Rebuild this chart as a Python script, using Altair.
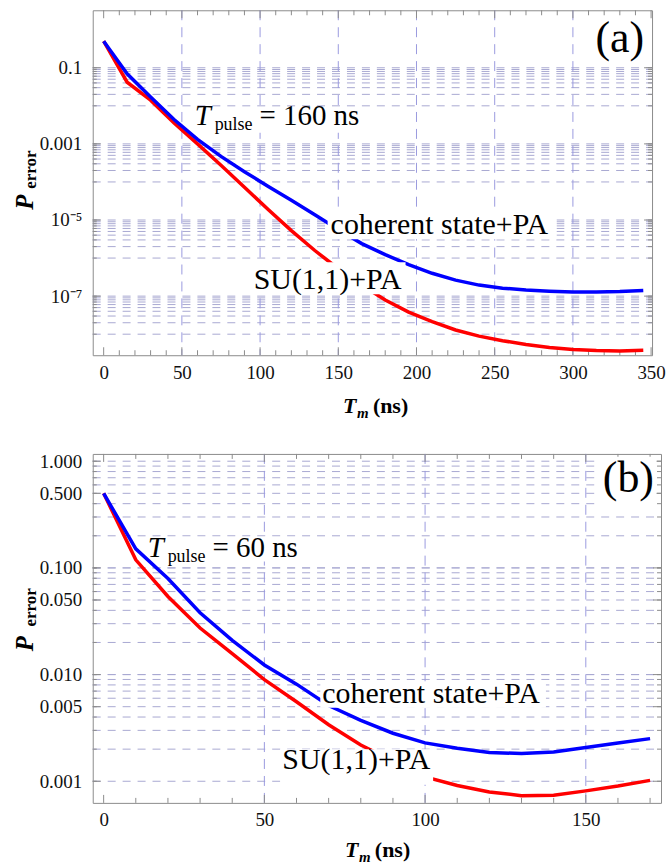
import altair as alt
import pandas as pd

FONT = "'Liberation Serif', 'Times New Roman', serif"
RED = "#ff0000"
BLUE = "#0000ff"
GRID_H = "#a9a9d2"
GRID_V = "#9b9bdf"
FRAME = "#8c8c8c"

# ---------------- panel (a): T_pulse = 160 ns ----------------
a_tm = [0, 15, 30, 45, 60, 75, 90, 105, 120, 135, 150, 165, 180, 195, 210,
        225, 240, 255, 270, 285, 300, 315, 330, 345]
a_coherent = [0.5, 0.0692, 0.0170, 4.37e-3, 1.32e-3, 4.68e-4, 1.86e-4, 7.76e-5,
              3.31e-5, 1.38e-5, 5.62e-6, 2.40e-6, 1.23e-6, 6.76e-7, 3.98e-7,
              2.63e-7, 1.95e-7, 1.62e-7, 1.45e-7, 1.35e-7, 1.29e-7, 1.29e-7,
              1.32e-7, 1.41e-7]
a_su11 = [0.5, 0.0417, 0.0141, 3.55e-3, 1.0e-3, 2.75e-4, 7.24e-5, 1.91e-5,
          5.25e-6, 1.58e-6, 5.25e-7, 1.95e-7, 7.94e-8, 3.80e-8, 2.14e-8,
          1.29e-8, 8.91e-9, 6.76e-9, 5.37e-9, 4.47e-9, 3.98e-9, 3.72e-9,
          3.63e-9, 3.80e-9]
a_xdomain = [-7.0, 350.6]
a_ydomain = [2.8e-9, 3.24]
a_xmajor = [0, 50, 100, 150, 200, 250, 300, 350]
a_xminor = [v for v in range(0, 351, 10) if v % 50]
a_vgrid = [50, 100, 150, 200, 250, 300]
a_hgrid = [k * 10.0 ** n for n in (-8, -6, -4, -2) for k in range(1, 11)]
a_ymajor = [0.1, 0.001, 1e-5, 1e-7]
a_ylabels = ["0.1", "0.001", "10\u207b\u2075", "10\u207b\u2077"]
# label boxes: x1, x2 (ns), y1, y2 (P)
a_boxes = {"x1": [59.5, 143.2, 94.0, 314.6], "x2": [168.3, 289.6, 193.0, 348.5],
           "y1": [8.8e-3, 1.66e-5, 7.8e-7, 2.12], "y2": [1.95e-3, 3.1e-6, 1.12e-7, 0.125]}
a_pulse_at = (58.2, 3.16e-3)
a_coh_at = (145.1, 4.17e-6)
a_su_at = (95.9, 1.51e-7)
a_tag_at = (345.5, 0.2576)

# ---------------- panel (b): T_pulse = 60 ns ----------------
b_tm = [0, 10, 20, 30, 40, 50, 60, 70, 80, 90, 100, 110, 120, 130, 140, 150, 160, 170]
b_coherent = [0.5, 0.151, 0.0794, 0.038, 0.0209, 0.0123, 8.13e-3, 5.13e-3, 3.72e-3,
              2.82e-3, 2.29e-3, 2.04e-3, 1.86e-3, 1.82e-3, 1.88e-3, 2.07e-3,
              2.28e-3, 2.51e-3]
b_su11 = [0.5, 0.119, 0.054, 0.0273, 0.0157, 8.97e-3, 5.57e-3, 3.39e-3, 2.19e-3,
          1.55e-3, 1.10e-3, 9.12e-4, 7.94e-4, 7.33e-4, 7.41e-4, 8.13e-4, 9.02e-4,
          1.02e-3]
b_xdomain = [-3.4, 173.4]
b_ydomain = [6.27e-4, 1.17]
b_xmajor = [0, 50, 100, 150]
b_xminor = [v for v in range(0, 171, 10) if v % 50]
b_vgrid = [50, 100, 150]
b_hgrid = [k * 10.0 ** n for n in (-3, -2, -1) for k in range(1, 11)]
b_ymajor = [1.0, 0.5, 0.1, 0.05, 0.01, 0.005, 0.001]
b_ylabels = ["1.000", "0.500", "0.100", "0.050", "0.010", "0.005", "0.001"]
b_boxes = {"x1": [17.1, 67.4, 55.0, 154.3], "x2": [61.8, 137.6, 102.5, 172.0],
           "y1": [0.196, 8.65e-3, 2.0e-3, 1.10], "y2": [0.1145, 4.9e-3, 9.25e-4, 0.374]}
b_pulse_at = (13.7, 0.1276)
b_coh_at = (68.0, 5.43e-3)
b_su_at = (55.6, 1.29e-3)
b_tag_at = (171.2, 0.516)


def label_expr(values, labels):
    pairs = sorted(zip(values, labels), key=lambda p: -p[0])
    expr = ""
    for v, lab in pairs:
        expr += f"datum.value >= {v * 0.98!r} ? '{lab}' : "
    return expr + "''"


def one_row(s):
    return pd.DataFrame({"s": [s]})


def panel(tm, coh, su, xdom, ydom, W, H, xmaj, xmin, vgrid, hgrid, ymaj, ylab,
          boxes, pulse_at, pulse_txt, coh_at, su_at, tag_at, tag, xt, yt):
    xs = alt.Scale(domain=xdom, nice=False, zero=False)
    ys = alt.Scale(type="log", domain=ydom, nice=False)
    xaxis = alt.Axis(values=xmaj, labelFont=FONT, labelFontSize=19, labelColor="#111",
                     ticks=False, tickSize=0, domain=False, grid=False, labelPadding=8,
                     labelFlush=False, title=None, format="d")
    yaxis = alt.Axis(values=ymaj, labelExpr=label_expr(ymaj, ylab), labelFont=FONT,
                     labelFontSize=19, labelColor="#111", ticks=False, tickSize=0,
                     domain=False, grid=False, labelPadding=11, title=None)

    def X(f):
        return alt.X(f, scale=xs, axis=xaxis)

    def Y(f):
        return alt.Y(f, scale=ys, axis=yaxis)

    layers = []
    # grid
    layers.append(alt.Chart(pd.DataFrame({"P": hgrid})).mark_rule(
        color=GRID_H, strokeWidth=1, strokeDash=[8, 7]).encode(
        y=Y("P:Q"), x=alt.value(0), x2=alt.value(W)))
    layers.append(alt.Chart(pd.DataFrame({"T": vgrid})).mark_rule(
        color=GRID_V, strokeWidth=1, strokeDash=[10, 7]).encode(
        x=X("T:Q"), y=alt.value(0), y2=alt.value(H)))
    # frame ticks
    for vals, ln in ((xmaj, 8), (xmin, 5)):
        df = pd.DataFrame({"T": vals})
        layers.append(alt.Chart(df).mark_rule(color=FRAME, strokeWidth=1).encode(
            x=X("T:Q"), y=alt.value(H), y2=alt.value(H - ln)))
        layers.append(alt.Chart(df).mark_rule(color=FRAME, strokeWidth=1).encode(
            x=X("T:Q"), y=alt.value(0), y2=alt.value(ln)))
    for vals, ln in ((ymaj, 8), (hgrid, 4)):
        df = pd.DataFrame({"P": vals})
        layers.append(alt.Chart(df).mark_rule(color=FRAME, strokeWidth=1).encode(
            y=Y("P:Q"), x=alt.value(0), x2=alt.value(ln)))
        layers.append(alt.Chart(df).mark_rule(color=FRAME, strokeWidth=1).encode(
            y=Y("P:Q"), x=alt.value(W), x2=alt.value(W - ln)))
    # curves
    layers.append(alt.Chart(pd.DataFrame({"T": tm, "P": su})).mark_line(
        color=RED, strokeWidth=3.5, clip=True).encode(x=X("T:Q"), y=Y("P:Q")))
    layers.append(alt.Chart(pd.DataFrame({"T": tm, "P": coh})).mark_line(
        color=BLUE, strokeWidth=3.5, clip=True).encode(x=X("T:Q"), y=Y("P:Q")))
    # white label boxes
    layers.append(alt.Chart(pd.DataFrame(boxes)).mark_rect(color="white").encode(
        x=X("x1:Q"), x2="x2:Q", y=Y("y1:Q"), y2="y2:Q"))

    def txt(at, s, size, dx=0, dy=0, style="normal", weight="normal", align="left"):
        return alt.Chart(pd.DataFrame({"T": [at[0]], "P": [at[1]], "s": [s]})).mark_text(
            font=FONT, fontSize=size, fontStyle=style, fontWeight=weight, align=align,
            baseline="alphabetic", dx=dx, dy=dy, color="black").encode(
            x=X("T:Q"), y=Y("P:Q"), text="s:N")

    layers.append(txt(pulse_at, "T", 29, style="italic"))
    layers.append(txt(pulse_at, "pulse", 18, dx=20, dy=5))
    layers.append(txt(pulse_at, pulse_txt, 29, dx=65))
    layers.append(txt(coh_at, "coherent state+PA", 30))
    layers.append(txt(su_at, "SU(1,1)+PA", 30))
    layers.append(txt(tag_at, tag, 44, align="right"))

    # axis titles
    def ptxt(s, x, y, size, style, angle=0):
        kw = dict(font=FONT, fontSize=size, fontStyle=style, fontWeight="bold",
                  align="left", baseline="alphabetic", color="black")
        if angle:
            kw["angle"] = angle
        return alt.Chart(one_row(s)).mark_text(**kw).encode(
            text="s:N", x=alt.value(x), y=alt.value(y))

    layers.append(ptxt("T", xt[0], H + xt[1], 22, "italic"))
    layers.append(ptxt("m", xt[0] + 14, H + xt[1] + 5, 15, "italic"))
    layers.append(ptxt("(ns)", xt[0] + 30, H + xt[1], 22, "normal"))
    layers.append(ptxt("P", -60, yt[0], 25, "italic", angle=270))
    layers.append(ptxt("error", -57, yt[1], 17, "normal", angle=270))

    return alt.layer(*layers).properties(width=W, height=H)


pa = panel(a_tm, a_coherent, a_su11, a_xdomain, a_ydomain, 561, 346, a_xmajor, a_xminor,
           a_vgrid, a_hgrid, a_ymajor, a_ylabels, a_boxes, a_pulse_at, "= 160 ns",
           a_coh_at, a_su_at, a_tag_at, "(a)", (251, 58), (200, 179))
pb = panel(b_tm, b_coherent, b_su11, b_xdomain, b_ydomain, 570, 350, b_xmajor, b_xminor,
           b_vgrid, b_hgrid, b_ymajor, b_ylabels, b_boxes, b_pulse_at, "= 60 ns",
           b_coh_at, b_su_at, b_tag_at, "(b)", (253, 54), (198, 173))

chart = alt.vconcat(pa, pb, spacing=29).properties(
    padding={"left": 12, "top": 8, "right": 0, "bottom": 0},
    background="white",
).configure_view(stroke=FRAME, strokeWidth=1)

chart.save("out.html", embed_options={"renderer": "svg", "actions": False})
